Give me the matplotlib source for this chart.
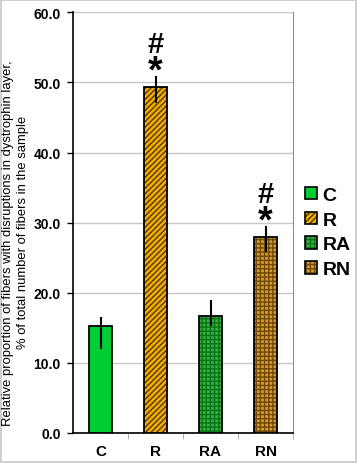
import matplotlib
matplotlib.use("Agg")
import matplotlib.pyplot as plt
from matplotlib.patches import Rectangle
from matplotlib.legend_handler import HandlerBase

plt.rcParams['font.family'] = ['Liberation Sans', 'DejaVu Sans']
plt.rcParams['hatch.linewidth'] = 1.0

categories = ["C", "R", "RA", "RN"]
values = [15.2, 49.4, 16.7, 28.0]
err_low = [3.2, 2.3, 1.5, 2.2]
err_high = [1.3, 1.5, 2.3, 1.5]
yticks = [0, 10, 20, 30, 40, 50, 60]
ytick_labels = ["0.0", "10.0", "20.0", "30.0", "40.0", "50.0", "60.0"]
sig_cats = ["R", "RN"]

face = ["#00CC33", "#F0AE00", "#34B040", "#D89A2A"]
hatch_col = ["#00CC33", "#553800", "#0C7418", "#6E4A08"]
hatches = [None, "//////", "++++", "++++"]

fig = plt.figure(figsize=(3.57, 4.64), dpi=100)
fig.patch.set_edgecolor("#D0D0D0")
fig.patch.set_linewidth(1.5)
ax = fig.add_axes([73/357, 30/464, 220/357, (434-13.3)/464])

x = list(range(len(categories)))
w = 0.42
for i in x:
    ax.bar(i, values[i], width=w, color=face[i], hatch=hatches[i],
           edgecolor=hatch_col[i], linewidth=0, zorder=3)
    ax.bar(i, values[i], width=w, facecolor="none", edgecolor="black",
           linewidth=1.3, zorder=4)
ax.errorbar(x, values, yerr=[err_low, err_high], fmt="none", ecolor="black",
            elinewidth=1.5, capsize=0, zorder=5)

for i, c in enumerate(categories):
    if c in sig_cats:
        top = values[i] + err_high[i]
        ax.text(i, top + 0.6, "*", ha="center", va="center", fontsize=27,
                fontweight="bold")
        ax.text(i, top + 4.6, "#", ha="center", va="center", fontsize=21,
                fontweight="bold")

ax.set_xlim(-0.5, 3.5)
ax.set_ylim(0, 60)
ax.set_yticks(yticks)
ax.set_yticklabels(ytick_labels, fontsize=10, fontweight="bold")
ax.set_xticks(x)
ax.set_xticklabels(categories, fontsize=11, fontweight="bold")
ax.tick_params(axis="x", length=0, pad=8)
ax.set_xticks([0.5, 1.5, 2.5, 3.5], minor=True)
ax.tick_params(axis="x", which="minor", length=4, color="#A0A0A0", direction="out")
ax.tick_params(axis="y", length=4, width=1, pad=5)
ax.grid(axis="y", color="#C8C8C8", linewidth=1, zorder=0)
ax.set_axisbelow(True)
ax.spines["top"].set_visible(False)
ax.spines["right"].set_color("#909090")
ax.spines["left"].set_linewidth(1.2)
ax.spines["bottom"].set_linewidth(1.2)

fig.text(8/357, 1-243.5/464,
         "Relative proportion of fibers with disruptions in dystrophin layer,",
         rotation=90, ha="center", va="center", fontsize=9.4)
fig.text(23/357, 1-232/464, "% of total number of fibers in the sample",
         rotation=90, ha="center", va="center", fontsize=9.4)


class SquareHandler(HandlerBase):
    def create_artists(self, legend, orig_handle, xdescent, ydescent,
                       width, height, fontsize, trans):
        fc, hc, hp = orig_handle
        r1 = Rectangle((-xdescent, -ydescent), width, height, facecolor=fc,
                       edgecolor=hc, hatch=hp, linewidth=0, transform=trans)
        r2 = Rectangle((-xdescent, -ydescent), width, height, facecolor="none",
                       edgecolor="black", linewidth=1.2, transform=trans)
        return [r1, r2]


handles = [(face[i], hatch_col[i], hatches[i]) for i in x]
hmap = {h: SquareHandler() for h in handles}
leg = fig.legend(handles, categories, loc="center left",
                 bbox_to_anchor=(305/357, 1-233.5/464), frameon=False,
                 borderpad=0, borderaxespad=0, handler_map=hmap,
                 handlelength=0.6, handleheight=0.6, handletextpad=0.3,
                 labelspacing=0.4, prop={"size": 14, "weight": "bold"})

fig.savefig("out.png", dpi=100)
